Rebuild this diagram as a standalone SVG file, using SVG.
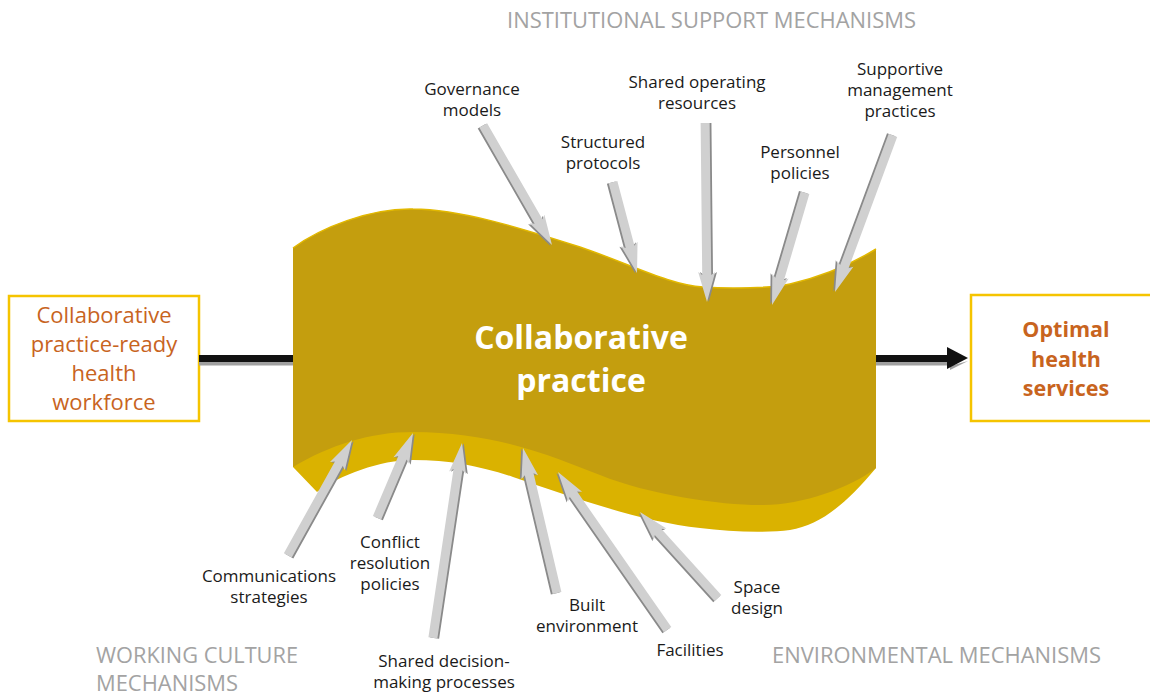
<svg xmlns="http://www.w3.org/2000/svg" width="1150" height="697" viewBox="0 0 1150 697">
  <defs>
    <style>
      .lbl { font-family: "Open Sans", "Liberation Sans", sans-serif; font-size: 17px; fill: #1a1a1a; text-anchor: middle; }
      .sec { font-family: "Open Sans", "Liberation Sans", sans-serif; font-size: 21px; fill: #a3a3a3; }
      .box { fill: #ffffff; stroke: #f5c400; stroke-width: 2.5; }
      .boxtxt { font-family: "Open Sans", "Liberation Sans", sans-serif; font-size: 22px; fill: #c8641e; text-anchor: middle; }
      .boxtxtb { font-family: "Open Sans", "Liberation Sans", sans-serif; font-size: 21.5px; font-weight: bold; fill: #c8641e; text-anchor: middle; }
      .title { font-family: "Open Sans", "Liberation Sans", sans-serif; font-size: 32px; font-weight: bold; fill: #ffffff; text-anchor: middle; }
      .arr { fill: #d0d0d0; }
      .ash { fill: #8a8a8a; }
    </style>
  </defs>

  <!-- Section headings -->
  <text class="sec" x="507" y="28" textLength="409" lengthAdjust="spacingAndGlyphs">INSTITUTIONAL SUPPORT MECHANISMS</text>
  <text class="sec" x="96" y="663" textLength="202" lengthAdjust="spacingAndGlyphs">WORKING CULTURE</text>
  <text class="sec" x="96" y="691" textLength="142" lengthAdjust="spacingAndGlyphs">MECHANISMS</text>
  <text class="sec" x="772" y="663" textLength="329" lengthAdjust="spacingAndGlyphs">ENVIRONMENTAL MECHANISMS</text>

  <!-- Central ribbon node -->
  <g id="collaborative-practice">
    <path d="M293,467 L317,492 C340,475 380,460 413,460 C450,460 480,466 513,477 C560,493 640,522 700,528 C730,532 767,533 790,530 C820,525 845,505 876,468 L876,400 L293,400 Z" fill="#dab200"/>
    <path d="M293,248 C320,228 370,208 413,209 C460,209 520,228 580,247 C630,264 670,285 703,287 C730,289 773,288 790,284 C820,277 850,265 876,249 L876,468 C850,488 800,506 760,505 C720,505 650,495 600,475 C560,460 500,432 413,432 C370,432 330,445 293,467 Z" fill="#c49e0e"/>
    <path d="M293,248 C320,228 370,208 413,209 C460,209 520,228 580,247 C630,264 670,285 703,287 C730,289 773,288 790,284 C820,277 850,265 876,249" fill="none" stroke="#e2b800" stroke-width="1.5"/>
    <text class="title" x="581" y="349">Collaborative</text>
    <text class="title" x="581" y="392">practice</text>
  </g>

  <!-- Input box -->
  <g id="workforce">
    <rect class="box" x="9" y="296" width="190" height="125"/>
    <text class="boxtxt" x="104" y="323">Collaborative</text>
    <text class="boxtxt" x="104" y="352">practice-ready</text>
    <text class="boxtxt" x="104" y="381">health</text>
    <text class="boxtxt" x="104" y="410">workforce</text>
  </g>

  <!-- Output box -->
  <g id="optimal-health-services">
    <rect class="box" x="971" y="295" width="190" height="126" stroke-width="3"/>
    <text class="boxtxtb" x="1066" y="337">Optimal</text>
    <text class="boxtxtb" x="1066" y="367">health</text>
    <text class="boxtxtb" x="1066" y="396">services</text>
  </g>

  <!-- Labels -->
  <g id="governance-models">
    <text class="lbl" x="472" y="95">Governance</text>
    <text class="lbl" x="472" y="116">models</text>
  </g>
  <g id="structured-protocols">
    <text class="lbl" x="603" y="148">Structured</text>
    <text class="lbl" x="603" y="169">protocols</text>
  </g>
  <g id="shared-operating-resources">
    <text class="lbl" x="697" y="88">Shared operating</text>
    <text class="lbl" x="697" y="109">resources</text>
  </g>
  <g id="personnel-policies">
    <text class="lbl" x="800" y="158">Personnel</text>
    <text class="lbl" x="800" y="179">policies</text>
  </g>
  <g id="supportive-management-practices">
    <text class="lbl" x="900" y="75">Supportive</text>
    <text class="lbl" x="900" y="96">management</text>
    <text class="lbl" x="900" y="117">practices</text>
  </g>
  <g id="communications-strategies">
    <text class="lbl" x="269" y="582">Communications</text>
    <text class="lbl" x="269" y="603">strategies</text>
  </g>
  <g id="conflict-resolution-policies">
    <text class="lbl" x="390" y="548">Conflict</text>
    <text class="lbl" x="390" y="569">resolution</text>
    <text class="lbl" x="390" y="590">policies</text>
  </g>
  <g id="shared-decision-making">
    <text class="lbl" x="444" y="667">Shared decision-</text>
    <text class="lbl" x="444" y="688">making processes</text>
  </g>
  <g id="built-environment">
    <text class="lbl" x="587" y="611">Built</text>
    <text class="lbl" x="587" y="632">environment</text>
  </g>
  <g id="facilities">
    <text class="lbl" x="690" y="656">Facilities</text>
  </g>
  <g id="space-design">
    <text class="lbl" x="757" y="593">Space</text>
    <text class="lbl" x="757" y="614">design</text>
  </g>

  <!-- Connectors -->
  <g id="connectors">
    <!-- main flow arrows -->
    <rect x="199" y="362" width="94" height="3.5" fill="#a0a0a0"/>
    <rect x="199" y="355" width="94" height="7" fill="#111111"/>
    <rect x="876" y="362" width="74" height="3.5" fill="#a0a0a0"/>
    <polygon points="950,366 950,370 968,361" fill="#a0a0a0"/>
    <rect x="876" y="355" width="74" height="7" fill="#111111"/>
    <polygon points="947,347 968,358 947,369" fill="#111111"/>

    <!-- gray influence arrows: tip at origin, pointing along +x -->
    <g transform="translate(552,245) rotate(60.1)">
      <polygon class="ash" transform="translate(0,1.8)" points="0,0 -30,-8.5 -27,-4.5 -138,-4.5 -138,4.5 -27,4.5 -30,8.5"/>
      <polygon class="arr" points="0,0 -30,-8.5 -27,-4.5 -138,-4.5 -138,4.5 -27,4.5 -30,8.5"/>
    </g>
    <g transform="translate(637,273) rotate(75.2)">
      <polygon class="ash" transform="translate(0,1.8)" points="0,0 -30,-8.5 -27,-4.5 -94,-4.5 -94,4.5 -27,4.5 -30,8.5"/>
      <polygon class="arr" points="0,0 -30,-8.5 -27,-4.5 -94,-4.5 -94,4.5 -27,4.5 -30,8.5"/>
    </g>
    <g transform="translate(707,302) rotate(89.4)">
      <polygon class="ash" transform="translate(0,-1.8)" points="0,0 -30,-8.5 -27,-4.5 -179,-4.5 -179,4.5 -27,4.5 -30,8.5"/>
      <polygon class="arr" points="0,0 -30,-8.5 -27,-4.5 -179,-4.5 -179,4.5 -27,4.5 -30,8.5"/>
    </g>
    <g transform="translate(772,305) rotate(106.4)">
      <polygon class="ash" transform="translate(0,1.8)" points="0,0 -30,-8.5 -27,-4.5 -117,-4.5 -117,4.5 -27,4.5 -30,8.5"/>
      <polygon class="arr" points="0,0 -30,-8.5 -27,-4.5 -117,-4.5 -117,4.5 -27,4.5 -30,8.5"/>
    </g>
    <g transform="translate(835,292) rotate(110.3)">
      <polygon class="ash" transform="translate(0,1.8)" points="0,0 -30,-8.5 -27,-4.5 -167,-4.5 -167,4.5 -27,4.5 -30,8.5"/>
      <polygon class="arr" points="0,0 -30,-8.5 -27,-4.5 -167,-4.5 -167,4.5 -27,4.5 -30,8.5"/>
    </g>
    <g transform="translate(352,440) rotate(-60.9)">
      <polygon class="ash" transform="translate(0,1.8)" points="0,0 -30,-8.5 -27,-4.5 -132,-4.5 -132,4.5 -27,4.5 -30,8.5"/>
      <polygon class="arr" points="0,0 -30,-8.5 -27,-4.5 -132,-4.5 -132,4.5 -27,4.5 -30,8.5"/>
    </g>
    <g transform="translate(413,433) rotate(-67)">
      <polygon class="ash" transform="translate(0,1.8)" points="0,0 -30,-8.5 -27,-4.5 -92,-4.5 -92,4.5 -27,4.5 -30,8.5"/>
      <polygon class="arr" points="0,0 -30,-8.5 -27,-4.5 -92,-4.5 -92,4.5 -27,4.5 -30,8.5"/>
    </g>
    <g transform="translate(462,443) rotate(-81.5)">
      <polygon class="ash" transform="translate(0,1.8)" points="0,0 -30,-8.5 -27,-4.5 -197,-4.5 -197,4.5 -27,4.5 -30,8.5"/>
      <polygon class="arr" points="0,0 -30,-8.5 -27,-4.5 -197,-4.5 -197,4.5 -27,4.5 -30,8.5"/>
    </g>
    <g transform="translate(523,448) rotate(-103.2)">
      <polygon class="ash" transform="translate(0,-1.8)" points="0,0 -30,-8.5 -27,-4.5 -149,-4.5 -149,4.5 -27,4.5 -30,8.5"/>
      <polygon class="arr" points="0,0 -30,-8.5 -27,-4.5 -149,-4.5 -149,4.5 -27,4.5 -30,8.5"/>
    </g>
    <g transform="translate(558,472) rotate(-124.8)">
      <polygon class="ash" transform="translate(0,-1.8)" points="0,0 -30,-8.5 -27,-4.5 -192,-4.5 -192,4.5 -27,4.5 -30,8.5"/>
      <polygon class="arr" points="0,0 -30,-8.5 -27,-4.5 -192,-4.5 -192,4.5 -27,4.5 -30,8.5"/>
    </g>
    <g transform="translate(640,512) rotate(-132.2)">
      <polygon class="ash" transform="translate(0,-1.8)" points="0,0 -30,-8.5 -27,-4.5 -116,-4.5 -116,4.5 -27,4.5 -30,8.5"/>
      <polygon class="arr" points="0,0 -30,-8.5 -27,-4.5 -116,-4.5 -116,4.5 -27,4.5 -30,8.5"/>
    </g>
  </g>
</svg>
